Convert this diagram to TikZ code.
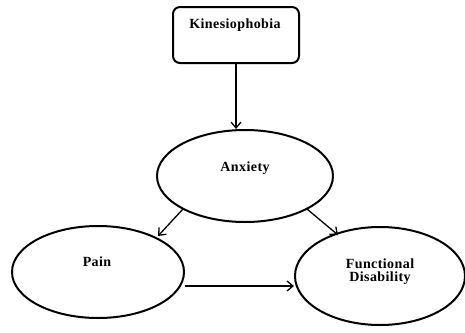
\documentclass[tikz,border=0pt]{standalone}
\usepackage{fontspec}
\setmainfont[LetterSpace=3]{Liberation Serif}
\usetikzlibrary{arrows.meta,shapes.geometric}
\begin{document}
\begin{tikzpicture}[x=1pt,y=-1pt,
  boxnode/.style={draw,line width=2pt,rounded corners=7pt,minimum width=126pt,minimum height=56pt,inner sep=0pt},
  oval/.style={draw,ellipse,line width=2pt,inner sep=0pt},
  lbl/.style={font=\bfseries\fontsize{14}{15}\selectfont,align=center},
  link/.style={line width=1.3pt,-{Straight Barb[length=6pt,width=10pt,line width=1.3pt]}}]
\useasboundingbox (0,0) rectangle (465,332);
\node[boxnode] (kin) at (236,35) {};
\node[lbl] (kint) at (235,25) {Kinesiophobia};
\node[oval,minimum width=176pt,minimum height=92pt] (anx) at (245,176) {};
\node[lbl] at (245,168) {Anxiety};
\node[oval,minimum width=172pt,minimum height=92pt] (pain) at (98,272) {};
\node[lbl] at (97,262) {Pain};
\node[oval,minimum width=170pt,minimum height=98pt] (fd) at (380,276) {};
\node[lbl] at (380,272) {Functional\\[-2pt]Disability};
% arrow end points on the ellipse borders
\coordinate (anxL) at (183,209);
\coordinate (anxR) at (307,209);
\coordinate (painT) at (158,236);
\coordinate (fdT) at (338,235);
\draw[link] (kin.south -| 236,0) -- (anx.north -| 236,0);
\draw[link] (anxL) -- (painT);
\draw[link] (anxR) -- (fdT);
\draw[link] (pain.east |- 0,286) -- (fd.west |- 0,286);
\end{tikzpicture}
\end{document}
